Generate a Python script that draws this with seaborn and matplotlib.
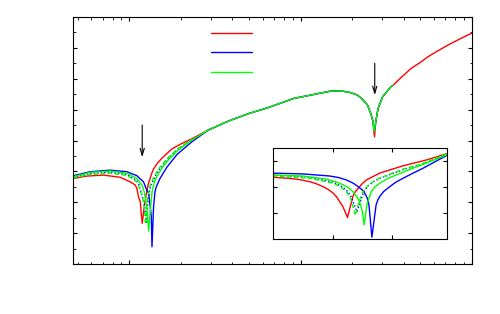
import numpy as np
import matplotlib
matplotlib.use("Agg")
import matplotlib.pyplot as plt
import seaborn as sns
from matplotlib.ticker import NullFormatter, MultipleLocator

# =====================================================
# DATA
# =====================================================

# shared upper branch after the first dip (all curves overlap here)
x_common = [2.897, 3.79, 4.966, 6.50, 9.10, 11.9, 14.98, 17.15, 19.61, 21.46, 23.0, 24.55, 25.66, 26.48]
y_common = [4.34, 4.63, 4.87, 5.07, 5.36, 5.49, 5.60, 5.61, 5.55, 5.47, 5.33, 5.15, 4.88, 4.61]

x_tail = [27.46, 28.31, 30.05, 33.6, 34.5]
y_tail = [4.61, 5.04, 5.41, 5.74, 5.78]

x_red_end = [38.46, 44.0, 50.0, 55.3, 63.0, 72.4, 85.0, 100.0]
y_red_end = [6.03, 6.33, 6.53, 6.71, 6.90, 7.09, 7.29, 7.48]

red_x = [0.472, 0.566, 0.708, 0.886, 1.013, 1.084, 1.109, 1.133, 1.160, 1.175, 1.191,
         1.224, 1.257, 1.291, 1.35, 1.387, 1.45, 1.545, 1.768, 1.987, 2.31]
red_y = [2.77, 2.85, 2.88, 2.81, 2.66, 2.56, 2.45, 2.18, 2.02, 1.65, 1.32,
         1.85, 2.25, 2.58, 2.92, 3.08, 3.24, 3.42, 3.72, 3.88, 4.05]

blue_x = [0.472, 0.591, 0.774, 0.969, 1.109, 1.212, 1.269, 1.297, 1.327, 1.345, 1.358,
          1.387, 1.414, 1.438, 1.512, 1.661, 1.901, 2.31]
blue_y = [2.86, 2.99, 3.04, 2.99, 2.86, 2.66, 2.38, 2.30, 1.85, 1.55, 0.56,
          1.85, 2.34, 2.50, 2.77, 3.14, 3.55, 3.95]

green_x = [0.472, 0.591, 0.774, 0.969, 1.109, 1.186, 1.224, 1.269, 1.279, 1.300,
           1.327, 1.363, 1.419, 1.445, 1.545, 1.69, 1.934, 2.31]
green_y = [2.83, 2.97, 3.01, 2.94, 2.77, 2.56, 2.34, 1.80, 1.53, 1.07,
           1.75, 2.39, 2.74, 2.82, 3.09, 3.37, 3.69, 4.01]

gdash_x = [0.472, 0.591, 0.774, 0.969, 1.109, 1.133, 1.203, 1.224, 1.245,
           1.269, 1.30, 1.327, 1.40, 1.50, 1.69, 1.934, 2.31]
gdash_y = [2.79, 2.90, 2.94, 2.87, 2.66, 2.56, 2.10, 1.85, 1.30,
           1.96, 2.35, 2.56, 2.85, 3.12, 3.45, 3.75, 4.03]

bdot_x = [0.472, 0.591, 0.774, 0.969, 1.109, 1.133, 1.212, 1.240, 1.262,
          1.285, 1.31, 1.34, 1.41, 1.51, 1.69, 1.934, 2.31]
bdot_y = [2.81, 2.93, 2.97, 2.90, 2.70, 2.60, 2.05, 1.75, 1.36,
          2.00, 2.35, 2.56, 2.82, 3.08, 3.42, 3.73, 4.02]

# second dip: red goes a bit deeper than green/blue
dip2_red = (26.98, 4.12)
dip2_other = (26.84, 4.28)

# inset (zoom on first dip, own linear scales)
in_red_x = [0, 0.28, 0.45, 0.62, 0.73, 0.84, 0.93, 1.01, 1.07, 1.12, 1.17, 1.21, 1.25,
            1.29, 1.34, 1.37, 1.43, 1.50, 1.57, 1.79, 2.18, 2.58, 2.91]
in_red_y = [2.37, 2.33, 2.28, 2.20, 2.12, 2.01, 1.90, 1.76, 1.61, 1.43, 1.25, 1.05, 0.82,
            1.18, 1.63, 1.78, 1.95, 2.13, 2.27, 2.53, 2.81, 3.04, 3.27]

in_blue_x = [0, 0.50, 0.95, 1.10, 1.23, 1.34, 1.43, 1.50, 1.54, 1.58, 1.61, 1.66,
             1.73, 1.76, 1.79, 1.86, 1.96, 2.06, 2.18, 2.35, 2.52, 2.72, 2.91]
in_blue_y = [2.53, 2.50, 2.42, 2.36, 2.27, 2.15, 2.01, 1.88, 1.76, 1.58, 1.31, 0.07,
             1.31, 1.50, 1.63, 1.83, 2.01, 2.18, 2.33, 2.53, 2.72, 2.97, 3.20]

in_green_x = [0, 0.50, 0.90, 1.05, 1.18, 1.27, 1.34, 1.41, 1.46, 1.50, 1.53,
              1.56, 1.58, 1.65, 1.71, 1.79, 1.92, 2.07, 2.27, 2.47, 2.70, 2.91]
in_green_y = [2.46, 2.42, 2.30, 2.20, 2.08, 1.96, 1.82, 1.62, 1.37, 1.05, 0.54,
              1.05, 1.37, 1.82, 2.00, 2.14, 2.32, 2.46, 2.65, 2.82, 3.03, 3.23]

in_gdash_x = [0, 0.62, 1.01, 1.13, 1.23, 1.29, 1.33, 1.38, 1.43, 1.47, 1.51, 1.58,
              1.68, 1.80, 1.96, 2.20, 2.47, 2.70, 2.91]
in_gdash_y = [2.42, 2.33, 2.14, 2.00, 1.82, 1.62, 1.37, 0.90, 1.31, 1.60, 1.82, 2.02,
              2.20, 2.35, 2.49, 2.70, 2.87, 3.07, 3.26]

in_bdot_x = [0, 0.62, 1.01, 1.13, 1.23, 1.30, 1.34, 1.41, 1.46, 1.50, 1.54, 1.61,
             1.70, 1.82, 1.96, 2.20, 2.47, 2.70, 2.91]
in_bdot_y = [2.46, 2.37, 2.18, 2.05, 1.88, 1.68, 1.45, 1.05, 1.40, 1.66, 1.88, 2.07,
             2.22, 2.36, 2.47, 2.68, 2.85, 3.05, 3.24]

# arrow positions (x, y_start, y_end)
arrows = [(1.191, 4.50, 3.46), (27.08, 6.50, 5.47)]

RED, BLUE, GREEN = "#ff0000", "#0000ff", "#00ff00"

# =====================================================
# BUILD SERIES
# =====================================================

def full(xs, ys, dip, end_x, end_y):
    return (xs + x_common + [dip[0]] + x_tail + end_x,
            ys + y_common + [dip[1]] + y_tail + end_y)

rx, ry = full(red_x, red_y, dip2_red, x_red_end, y_red_end)
bx, by = full(blue_x, blue_y, dip2_other, [], [])
gx, gy = full(green_x, green_y, dip2_other, [], [])

# =====================================================
# PLOT
# =====================================================

sns.set_style("ticks")
fig = plt.figure(figsize=(5, 3.14), dpi=100)
ax = fig.add_axes([0.146, 0.159, 0.798, 0.787])

lw = 1.0
sns.lineplot(x=rx, y=ry, ax=ax, sort=False, color=RED, lw=lw)
sns.lineplot(x=bx, y=by, ax=ax, sort=False, color=BLUE, lw=lw)
sns.lineplot(x=bdot_x, y=bdot_y, ax=ax, sort=False, color=BLUE, lw=lw, linestyle=(0, (1, 1.5)))
sns.lineplot(x=gdash_x, y=gdash_y, ax=ax, sort=False, color=GREEN, lw=lw, linestyle=(0, (3, 2)))
sns.lineplot(x=gx, y=gy, ax=ax, sort=False, color=GREEN, lw=lw)

ax.set_xscale("log")
ax.set_xlim(0.47, 100)
ax.set_ylim(0, 8)
ax.yaxis.set_major_locator(MultipleLocator(1))
ax.yaxis.set_minor_locator(MultipleLocator(0.5))
ax.xaxis.set_major_formatter(NullFormatter())
ax.xaxis.set_minor_formatter(NullFormatter())
ax.yaxis.set_major_formatter(NullFormatter())
ax.tick_params(which="both", direction="in", top=True, right=True, color="black")
ax.tick_params(which="major", length=3, width=0.8)
ax.tick_params(which="minor", length=1.8, width=0.6)
for s in ax.spines.values():
    s.set_color("black")
    s.set_linewidth(0.8)
ax.set_xlabel("")
ax.set_ylabel("")

for x, y0, y1 in arrows:
    ax.annotate("", xy=(x, y1), xytext=(x, y0),
                arrowprops=dict(arrowstyle="->,head_length=0.5,head_width=0.15",
                                color="black", lw=0.8, shrinkA=0, shrinkB=0))

handles = ax.get_lines()
leg_lines = [handles[0], handles[1], handles[4]]
leg = ax.legend(leg_lines, ["", "", ""], loc="upper left",
                bbox_to_anchor=(0.345, 0.96), frameon=False, fontsize=10,
                handlelength=2.95, handleheight=0.7, labelspacing=0.39,
                borderpad=0, borderaxespad=0, handletextpad=0)

# inset
axin = fig.add_axes([0.546, 0.239, 0.348, 0.29])
sns.lineplot(x=in_red_x, y=in_red_y, ax=axin, sort=False, color=RED, lw=lw)
sns.lineplot(x=in_blue_x, y=in_blue_y, ax=axin, sort=False, color=BLUE, lw=lw)
sns.lineplot(x=in_bdot_x, y=in_bdot_y, ax=axin, sort=False, color=BLUE, lw=lw, linestyle=(0, (1, 1.5)))
sns.lineplot(x=in_gdash_x, y=in_gdash_y, ax=axin, sort=False, color=GREEN, lw=lw, linestyle=(0, (3, 2)))
sns.lineplot(x=in_green_x, y=in_green_y, ax=axin, sort=False, color=GREEN, lw=lw)
axin.set_xlim(0, 2.92)
axin.set_ylim(0, 3.5)
axin.set_xticks([1, 2])
axin.set_yticks([1, 2, 3])
axin.xaxis.set_major_formatter(NullFormatter())
axin.yaxis.set_major_formatter(NullFormatter())
axin.tick_params(direction="in", top=True, right=True, length=3, width=0.8, color="black")
for s in axin.spines.values():
    s.set_color("black")
    s.set_linewidth(0.8)
axin.set_xlabel("")
axin.set_ylabel("")

fig.savefig("out.png", dpi=100)
